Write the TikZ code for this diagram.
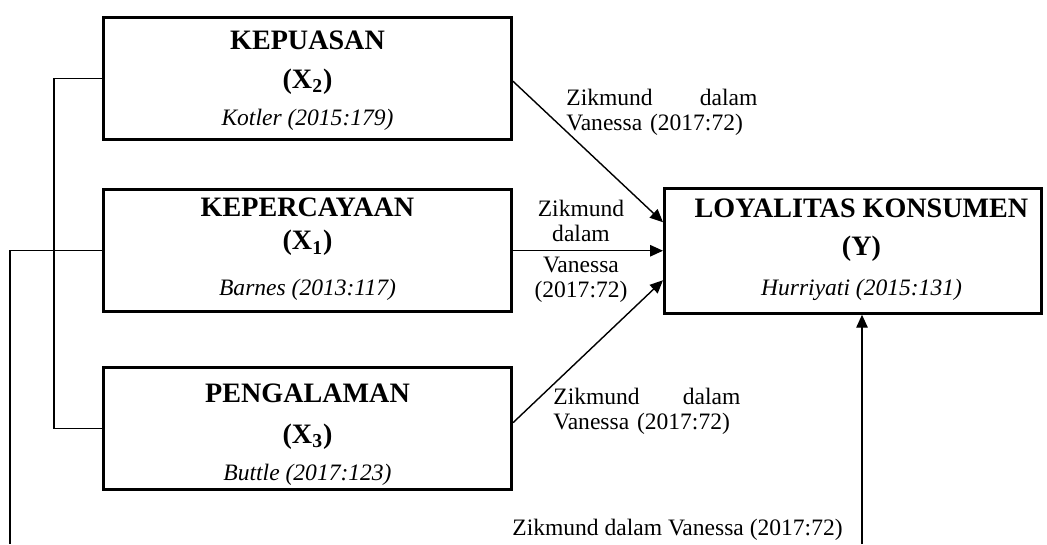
\documentclass[tikz,border=0pt]{standalone}
\usepackage{fontspec}
\setmainfont{Liberation Serif}
\usetikzlibrary{arrows.meta,positioning}
\tikzset{
  varbox/.style={draw,line width=1.7pt,minimum width=8.16cm,minimum height=2.44cm,inner sep=0pt},
  headtext/.style={font=\fontsize{16}{19}\selectfont\bfseries,inner sep=0pt,anchor=base},
  reftext/.style={font=\fontsize{13.4}{14.2}\selectfont\itshape,inner sep=0pt,anchor=base},
  citetext/.style={font=\fontsize{13.4}{14.2}\selectfont,inner sep=0pt},
  link/.style={line width=0.8pt},
  arrowlink/.style={link,-{Triangle[length=2.6mm,width=2.3mm]}},
}
\begin{document}
\begin{tikzpicture}
  \useasboundingbox (0,0) rectangle (20.94,-10.88);
  % variable boxes
  \node[varbox] (kepuasan) at (6.15,-1.575) {};
  \node[varbox,below=0.94cm of kepuasan] (kepercayaan) {};
  \node[varbox,below=1.06cm of kepercayaan] (pengalaman) {};
  \node[varbox,minimum width=7.54cm,minimum height=2.5cm,right=3cm of kepercayaan] (loyalitas) {};
  % texts in the boxes
  \node[headtext] at ([yshift=-0.66cm]kepuasan.north) {KEPUASAN};
  \node[headtext] at ([yshift=-1.44cm]kepuasan.north) {(X\textsubscript{2})};
  \node[reftext] at ([yshift=-2.18cm]kepuasan.north) {Kotler (2015:179)};
  \node[headtext] at ([yshift=-0.57cm]kepercayaan.north) {KEPERCAYAAN};
  \node[headtext] at ([yshift=-1.23cm]kepercayaan.north) {(X\textsubscript{1})};
  \node[reftext] at ([yshift=-2.15cm]kepercayaan.north) {Barnes (2013:117)};
  \node[headtext] at ([yshift=-0.72cm]pengalaman.north) {PENGALAMAN};
  \node[headtext] at ([yshift=-1.54cm]pengalaman.north) {(X\textsubscript{3})};
  \node[reftext] at ([yshift=-2.28cm]pengalaman.north) {Buttle (2017:123)};
  \node[headtext] at ([xshift=0.17cm,yshift=-0.61cm]loyalitas.north) {LOYALITAS KONSUMEN};
  \node[headtext] at ([xshift=0.17cm,yshift=-1.37cm]loyalitas.north) {(Y)};
  \node[reftext] at ([xshift=0.17cm,yshift=-2.17cm]loyalitas.north) {Hurriyati (2015:131)};
  % free ends at the lower edge
  \coordinate (feedend) at (0.2,-10.88);
  \coordinate (riseend) at (17.24,-10.88);
  % connectors
  \draw[link] (kepuasan.west) -- ++(-0.96,0) |- (pengalaman.west);
  \draw[link] (kepercayaan.west) -| (feedend);
  \draw[arrowlink] ([yshift=-0.05cm]kepuasan.east) -- ([yshift=0.57cm]loyalitas.west);
  \draw[arrowlink] (kepercayaan.east) -- node[citetext,above,align=center,xshift=-0.14cm,yshift=0.16cm] {Zikmund\\dalam}
    node[citetext,below,align=center,xshift=-0.14cm,yshift=-0.11cm] {Vanessa\\(2017:72)} (kepercayaan.east -| loyalitas.west);
  \draw[arrowlink] ([yshift=0.12cm]pengalaman.east) -- ([yshift=-0.59cm]loyalitas.west);
  \draw[arrowlink] (riseend) -- (riseend |- loyalitas.south);
  % citations
  \node[citetext,anchor=north west,text width=3.82cm,align=left] (cite2) at (11.32,-1.78) {Zikmund\hfill dalam\\Vanessa (2017:72)};
  \node[citetext,anchor=north west,text width=3.74cm,align=left] (cite3) at (11.06,-7.76) {Zikmund\hfill dalam\\Vanessa (2017:72)};
  \node[citetext,anchor=base west] (cite4) at (10.24,-10.7) {Zikmund dalam Vanessa (2017:72)};
\end{tikzpicture}
\end{document}
